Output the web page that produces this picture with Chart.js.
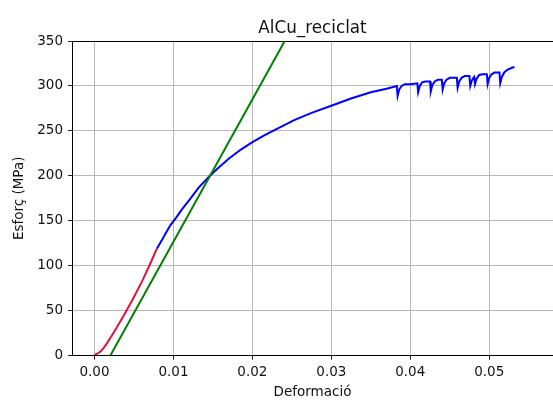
<!DOCTYPE html>
<html>
<head>
<meta charset="utf-8">
<script src="https://cdn.jsdelivr.net/npm/chart.js@4"></script>
<style>
  html, body { margin: 0; padding: 0; overflow: hidden; background: #fff; }
  #wrap { width: 553px; height: 401px; }
</style>
</head>
<body>
<div id="wrap"><canvas id="curve-chart"></canvas></div>
<script>
// elastic start of the curve (red)
var redStrain = [0.0000, 0.0004, 0.0008, 0.0012, 0.0016, 0.0021, 0.0028, 0.0036, 0.0048, 0.0061, 0.0072, 0.0079];
var redStress = [1, 2.5, 5, 9, 14, 21, 31, 43, 62, 84, 105, 119];

// plastic part with serrations at the end (blue)
var blueStrain = [0.0079, 0.0085, 0.0090, 0.0096, 0.0103, 0.0111, 0.0120, 0.0132, 0.0145, 0.0157, 0.0170, 0.0185,
    0.0199, 0.0215, 0.0233, 0.0253, 0.0275, 0.0300, 0.0325, 0.0350, 0.0370,
    0.0383, 0.0384, 0.0386, 0.0389, 0.0393, 0.0400,
    0.0409, 0.0410, 0.0412, 0.0415, 0.0419,
    0.0425, 0.0426, 0.0428, 0.0431, 0.0435,
    0.0440, 0.0441, 0.0443, 0.0446, 0.0450,
    0.0459, 0.0460, 0.0462, 0.0465, 0.0469,
    0.0475, 0.0476, 0.0478, 0.0480,
    0.0481, 0.0482, 0.0484, 0.0487, 0.0491,
    0.0497, 0.0498, 0.0500, 0.0503, 0.0507,
    0.0513, 0.0514, 0.0516, 0.0519, 0.0523, 0.0528, 0.0532];
var blueStress = [119, 128, 136, 145, 153, 163, 173, 187, 199, 209, 219, 229,
    237, 245, 253, 262, 270, 278, 286, 293, 297,
    300, 289, 296, 300, 302, 302,
    303, 293, 300, 304, 305,
    305, 294, 301, 305, 307,
    307, 296, 303, 307, 309,
    309, 298, 305, 309, 311,
    311, 300, 306, 309,
    310, 302, 308, 312, 313,
    313, 302, 309, 313, 315,
    315, 303, 310, 315, 318, 320, 321];

// offset line (green)
var greenStrain = [0.0020, 0.0241];
var greenStress = [0, 350];

var xTicks = [0, 0.01, 0.02, 0.03, 0.04, 0.05];

function toPoints(xs, ys) {
    return xs.map(function(x, i) { return { x: x, y: ys[i] }; });
}

var tickFont = { family: 'DejaVu Sans', size: 13.5 };
var gridColor = '#b8b8b8';

var ctx = document.getElementById('curve-chart').getContext('2d');

var chart = new Chart(ctx, {
    type: 'scatter',
    data: {
        datasets: [{
            label: 'elastic',
            data: toPoints(redStrain, redStress),
            borderColor: '#dc143c',
            order: 2
        }, {
            label: 'plastic',
            data: toPoints(blueStrain, blueStress),
            borderColor: '#0000ff',
            order: 3
        }, {
            label: 'offset',
            data: toPoints(greenStrain, greenStress),
            borderColor: '#008000',
            order: 1
        }]
    },
    options: {
        responsive: true,
        maintainAspectRatio: false,
        animation: false,
        // negative right padding: the plot box ends just past the canvas edge, like the original
        layout: { padding: { left: 0, right: -4, top: 0, bottom: 0 } },
        datasets: {
            scatter: { showLine: true, pointRadius: 0, borderWidth: 2, tension: 0, fill: false }
        },
        plugins: {
            legend: { display: false },
            tooltip: { enabled: false },
            title: { display: false }
        },
        scales: {
            x: {
                type: 'linear',
                position: 'bottom',
                min: -0.00285,
                max: 0.05808,
                afterBuildTicks: function(scale) {
                    scale.ticks = xTicks.map(function(v) { return { value: v }; });
                },
                afterFit: function(scale) { scale.height = 45.3; },
                ticks: {
                    color: '#111',
                    font: tickFont,
                    padding: 5,
                    maxRotation: 0,
                    callback: function(v) { return Number(v).toFixed(2); }
                },
                grid: { color: gridColor, lineWidth: 1, tickColor: '#222', tickLength: 4 },
                border: { color: '#000', width: 1 },
                title: {
                    display: true,
                    text: 'Deformació',
                    color: '#111',
                    font: tickFont,
                    padding: { top: 0, bottom: 0.4 }
                }
            },
            x2: {
                type: 'linear',
                position: 'top',
                min: 0,
                max: 1,
                afterFit: function(scale) { scale.height = 41; },
                ticks: { display: false },
                grid: { display: false },
                border: { color: '#000', width: 1 },
                title: {
                    display: true,
                    text: 'AlCu_reciclat',
                    color: '#111',
                    font: { family: 'DejaVu Sans', size: 16.8 },
                    padding: { top: 18.6, bottom: 0 }
                }
            },
            y: {
                type: 'linear',
                min: 0,
                max: 350,
                afterFit: function(scale) { scale.width = 72; },
                ticks: { stepSize: 50, color: '#111', font: tickFont, padding: 5 },
                grid: { color: gridColor, lineWidth: 1, tickColor: '#222', tickLength: 4 },
                border: { color: '#000', width: 1 },
                title: {
                    display: true,
                    text: 'Esforç (MPa)',
                    color: '#111',
                    font: tickFont,
                    padding: { top: 10.9, bottom: 0 }
                }
            }
        }
    }
});
</script>
</body>
</html>
